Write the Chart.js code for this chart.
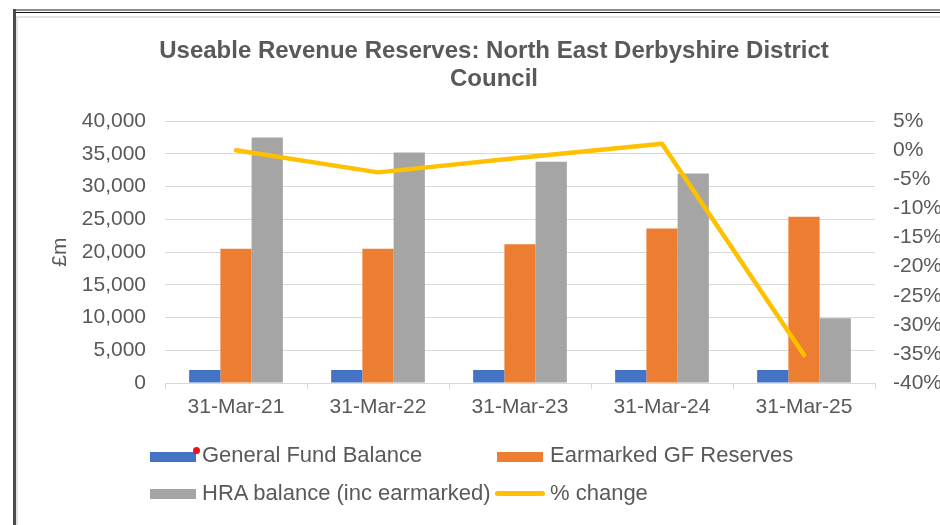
<!DOCTYPE html>
<html>
<head>
<meta charset="utf-8">
<script src="https://cdn.jsdelivr.net/npm/chart.js@4"></script>
<style>
  html, body { margin: 0; padding: 0; background: #ffffff; }
  #wrap { position: relative; width: 940px; height: 525px; overflow: hidden; background: #fff; }
  #wrap canvas { position: absolute; left: 0; top: 0; }
  .ln { position: absolute; pointer-events: none; }
  .lg-sw { position: absolute; }
  .lg-tx { position: absolute; font-family: "Liberation Sans", Arial, sans-serif; font-size: 22px; color: #595959; line-height: 24px; white-space: nowrap; }
</style>
</head>
<body>
<div id="wrap">
  <canvas id="c" width="940" height="525"></canvas>
  <!-- frame -->
  <div class="ln" style="left:13px;top:9px;width:927px;height:2px;background:#8c8c8c;"></div>
  <div class="ln" style="left:13px;top:12px;width:927px;height:1px;background:#111;"></div>
  <div class="ln" style="left:13px;top:9px;width:3px;height:516px;background:#4b4b4b;"></div>
  <div class="ln" style="left:16px;top:16px;width:924px;height:2px;background:#e3e3e3;"></div>
  <div class="ln" style="left:16px;top:16px;width:2px;height:509px;background:#e3e3e3;"></div>
  <!-- legend -->
  <div id="legend"></div>
</div>
<script>
const categories = ['31-Mar-21', '31-Mar-22', '31-Mar-23', '31-Mar-24', '31-Mar-25'];
const generalFund = [2000, 2000, 2000, 2000, 2000];
const earmarkedGF = [20500, 20500, 21200, 23600, 25400];
const hraBalance = [37500, 35200, 33800, 32000, 9900];
const pctChange = [0, -3.8, -1.3, 1.1, -35.2];
const leftTicks = { min: 0, max: 40000, step: 5000 };
const rightTicks = { min: -40, max: 5, step: 5 };
const seriesNames = ['General Fund Balance', 'Earmarked GF Reserves', 'HRA balance (inc earmarked)', '% change'];
const titleLines = ['Useable Revenue Reserves: North East Derbyshire District', 'Council'];

const FONT = '"Liberation Sans", Arial, sans-serif';
const TXT = '#595959';
const GRID = '#d9d9d9';
const COLORS = ['#4472C4', '#ED7D31', '#A5A5A5', '#FFC000'];

// HTML legend (two columns)
(function () {
  const lg = document.getElementById('legend');
  const items = [
    { name: seriesNames[0], color: COLORS[0], type: 'bar', sx: 150, sy: 452, tx: 202, ty: 443 },
    { name: seriesNames[1], color: COLORS[1], type: 'bar', sx: 497, sy: 452, tx: 550, ty: 443 },
    { name: seriesNames[2], color: COLORS[2], type: 'bar', sx: 150, sy: 489, tx: 202, ty: 481 },
    { name: seriesNames[3], color: COLORS[3], type: 'line', sx: 495, sy: 491, tx: 550, ty: 481 }
  ];
  items.forEach(it => {
    const sw = document.createElement('div');
    sw.className = 'lg-sw';
    if (it.type === 'bar') {
      sw.style.cssText = `left:${it.sx}px;top:${it.sy}px;width:46px;height:10px;background:${it.color};`;
    } else {
      sw.style.cssText = `left:${it.sx}px;top:${it.sy}px;width:50px;height:5px;border-radius:3px;background:${it.color};`;
    }
    lg.appendChild(sw);
    const tx = document.createElement('div');
    tx.className = 'lg-tx';
    tx.style.left = it.tx + 'px';
    tx.style.top = it.ty + 'px';
    tx.textContent = it.name;
    lg.appendChild(tx);
  });
  const dot = document.createElement('div');
  dot.className = 'lg-sw';
  dot.style.cssText = 'left:193px;top:447px;width:7px;height:7px;border-radius:50%;background:#e8141b;';
  lg.appendChild(dot);
})();

new Chart(document.getElementById('c'), {
  data: {
    labels: categories,
    datasets: [
      { type: 'bar', label: seriesNames[0], data: generalFund, backgroundColor: COLORS[0], yAxisID: 'y', order: 1 },
      { type: 'bar', label: seriesNames[1], data: earmarkedGF, backgroundColor: COLORS[1], yAxisID: 'y', order: 1 },
      { type: 'bar', label: seriesNames[2], data: hraBalance, backgroundColor: COLORS[2], yAxisID: 'y', order: 1 },
      { type: 'line', label: seriesNames[3], data: pctChange, borderColor: COLORS[3], backgroundColor: COLORS[3],
        borderWidth: 4.5, pointRadius: 0, tension: 0, borderCapStyle: 'round', borderJoinStyle: 'round',
        yAxisID: 'y1', order: 0 }
    ]
  },
  options: {
    responsive: false,
    animation: false,
    devicePixelRatio: 1,
    layout: { padding: { left: 48, right: 0, top: 37, bottom: 102 } },
    datasets: { bar: { barPercentage: 1, categoryPercentage: 0.66, borderWidth: 0 } },
    plugins: {
      legend: { display: false },
      tooltip: { enabled: false },
      title: {
        display: true,
        text: titleLines,
        color: TXT,
        font: { family: FONT, size: 24, weight: 'bold', lineHeight: 1.17 },
        padding: { top: 0, bottom: 28 }
      }
    },
    scales: {
      x: {
        offset: true,
        grid: { offset: true, drawOnChartArea: false, drawTicks: true, tickLength: 6, color: GRID },
        border: { display: true, color: GRID },
        ticks: { color: TXT, font: { family: FONT, size: 21 }, padding: 6, maxRotation: 0 },
        afterFit: s => { s.height = 40; }
      },
      y: {
        position: 'left',
        min: leftTicks.min, max: leftTicks.max,
        ticks: { stepSize: leftTicks.step, color: TXT, font: { family: FONT, size: 21 }, padding: 19,
                 callback: v => Number(v).toLocaleString('en-GB') },
        grid: { color: GRID, drawTicks: false, lineWidth: 1 },
        border: { display: false },
        title: { display: true, text: '£m', color: TXT, font: { family: FONT, size: 21 }, padding: 0 },
        afterFit: s => { s.width = 117; }
      },
      y1: {
        position: 'right',
        min: rightTicks.min, max: rightTicks.max,
        ticks: { stepSize: rightTicks.step, color: TXT, font: { family: FONT, size: 21 }, padding: 18,
                 callback: v => v + '%' },
        grid: { display: false, drawTicks: false },
        border: { display: false },
        afterFit: s => { s.width = 65; }
      }
    }
  }
});
</script>
</body>
</html>
